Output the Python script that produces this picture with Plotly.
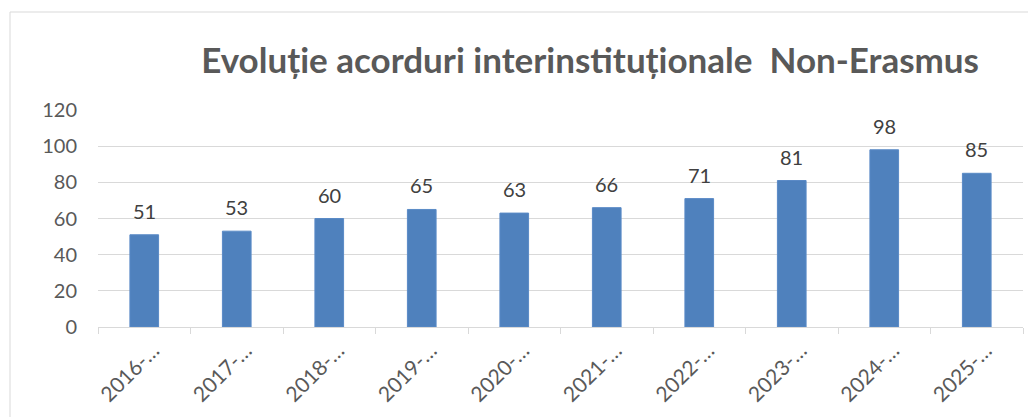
import plotly.graph_objects as go

categories = ["2016-…", "2017-…", "2018-…", "2019-…", "2020-…",
              "2021-…", "2022-…", "2023-…", "2024-…", "2025-…"]
values = [51, 53, 60, 65, 63, 66, 71, 81, 98, 85]
y_ticks = [0, 20, 40, 60, 80, 100, 120]
title_text = "Evoluție acorduri interinstituționale  Non-Erasmus"

FONT = "Lato, Carlito, 'Open Sans', sans-serif"

# page body has an 8px default margin; figure sized to fit the window
W, H = 1028, 409
L, T, R, B = 90, 102, 13, 90
PW = W - L - R
PH = H - T - B

fig = go.Figure()
fig.add_trace(go.Bar(
    x=categories, y=values,
    marker=dict(color="#4f81bd", line=dict(color="#5a8ac6", width=1)),
    width=0.31,
    hoverinfo="x+y",
))

for c, v in zip(categories, values):
    fig.add_annotation(x=c, y=v, text=str(v), showarrow=False,
                       yanchor="bottom", yshift=10,
                       font=dict(family=FONT, size=20, color="#404040"))

fig.update_layout(
    width=W, height=H,
    margin=dict(l=L, r=R, t=T, b=B, autoexpand=False),
    paper_bgcolor="white", plot_bgcolor="white",
    showlegend=False,
    title=dict(text=title_text, x=0.532, xref="paper", xanchor="center",
               y=1 - 53 / H, yref="container", yanchor="middle",
               font=dict(family=FONT, size=35, color="#595959", weight="bold")),
    xaxis=dict(showgrid=False, showline=True, linecolor="#d9d9d9", linewidth=1,
               ticks="outside", tickson="boundaries", ticklen=6, tickcolor="#d9d9d9",
               tickangle=-45, automargin=False, ticklabelshift=9, ticklabelstandoff=2,
               tickfont=dict(family=FONT, size=21, color="#595959")),
    yaxis=dict(range=[0, 120], tickvals=y_ticks, showgrid=True, gridcolor="#d9d9d9",
               gridwidth=1, zeroline=False, showline=False, ticks="",
               ticklabelstandoff=20, automargin=False,
               tickfont=dict(family=FONT, size=20, color="#595959")),
    shapes=[dict(type="rect", xref="paper", yref="paper",
                 x0=(2 - L) / PW, x1=1.2, y0=-1.0, y1=(PH + T - 4) / PH,
                 line=dict(color="#d9d9d9", width=1), layer="below")],
)

fig.write_html("out.html")
